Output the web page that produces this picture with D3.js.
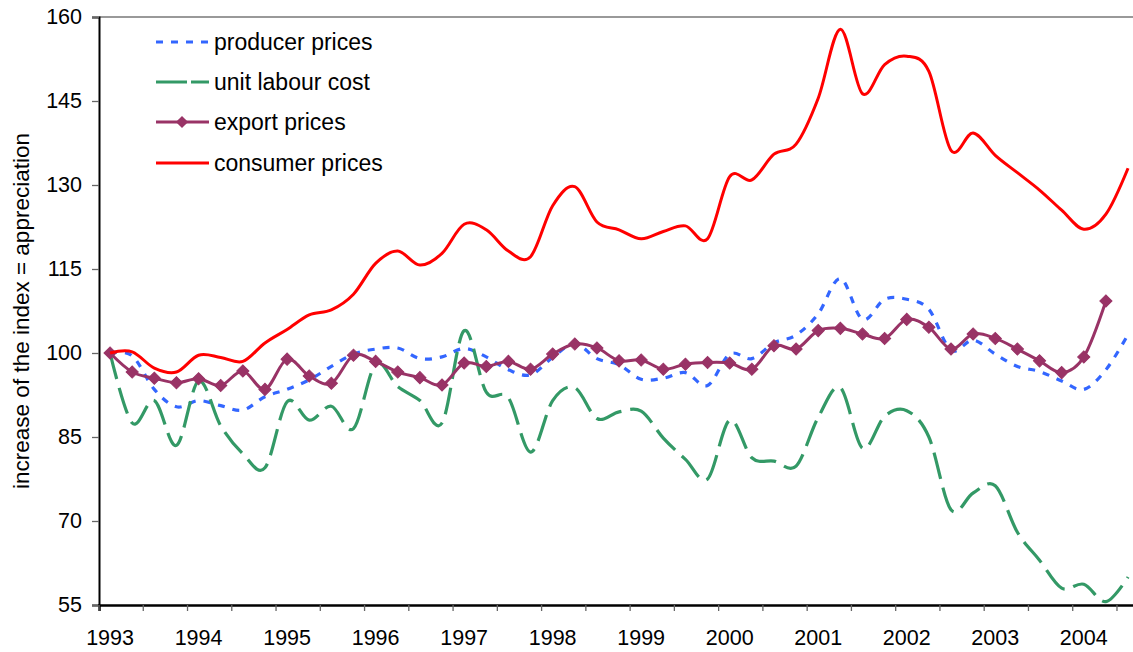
<!DOCTYPE html>
<html>
<head>
<meta charset="utf-8">
<script src="https://cdn.jsdelivr.net/npm/d3@7"></script>
<style>
    body { margin: 0; background: #fff; }
    text { font-family: "Liberation Sans", Arial, sans-serif; fill: #000; }
</style>
</head>
<body>
<div id="chart"></div>
<script>
// quarterly data, 1993 Q1 .. 2004 Q3
var years = [1993, 1994, 1995, 1996, 1997, 1998, 1999, 2000, 2001, 2002, 2003, 2004];
var quarters = [];
years.forEach(function (y) {
    for (var q = 1; q <= 4; q++) quarters.push(y + " Q" + q);
});
quarters = quarters.slice(0, 47);

var yTicks = [55, 70, 85, 100, 115, 130, 145, 160];

var producerPrices = [100, 99.5, 93.5, 90.4, 91.5, 90.6, 89.8, 92.2, 93.5, 95.2, 97.6, 99.8, 100.7, 100.9, 99.0, 99.3,
    100.8, 99.3, 97.0, 96.1, 99.2, 101.7, 99.0, 97.9, 95.3, 95.5, 96.5, 94.2, 99.8, 99.0, 101.8, 103.2,
    107.0, 113.3, 106.0, 109.6, 109.6, 107.8, 100.5, 102.3, 99.8, 97.6, 96.7, 95.0, 93.5, 97.0, 103.3];

var unitLabourCost = [100, 87.5, 91.5, 83.5, 95.0, 87.0, 82.0, 79.5, 91.3, 88.0, 90.5, 86.5, 98.0, 94.0, 91.5, 87.5,
    104.0, 93.0, 92.0, 82.3, 91.5, 93.8, 88.3, 89.5, 89.6, 84.8, 81.0, 77.5, 88.0, 81.3, 80.7, 79.8,
    88.5, 93.8, 83.0, 88.7, 89.7, 85.0, 72.0, 75.0, 76.3, 68.0, 63.0, 58.0, 58.7, 55.6, 60.0];

var exportPrices = [100.0, 96.6, 95.5, 94.7, 95.4, 94.2, 96.8, 93.5, 98.9, 95.9, 94.6, 99.6, 98.5, 96.6, 95.6, 94.3,
    98.2, 97.6, 98.5, 97.1, 99.8, 101.6, 100.9, 98.6, 98.75, 97.1, 98.0, 98.3, 98.2, 97.1, 101.3, 100.7,
    104.0, 104.4, 103.4, 102.6, 106.0, 104.6, 100.7, 103.4, 102.6, 100.7, 98.6, 96.5, 99.3, 109.3];

var consumerPrices = [100, 100.2, 97.3, 96.6, 99.6, 99.2, 98.5, 101.8, 104.2, 106.8, 107.7, 110.5, 116.0, 118.2, 115.7, 117.8,
    123.0, 122.0, 118.2, 117.2, 126.3, 129.7, 123.4, 122.0, 120.4, 121.7, 122.7, 120.4, 131.5, 130.9, 135.5, 137.3,
    145.5, 157.8, 146.3, 151.5, 153.0, 150.3, 136.2, 139.3, 135.3, 132.2, 129.1, 125.5, 122.1, 124.8, 133.0];

var seriesNames = ["producer prices", "unit labour cost", "export prices", "consumer prices"];

var W = 1133, H = 652;
var plotLeft = 99, plotTop = 17, plotBottom = 605;
var catW = 22.13;

var svg = d3.select("#chart")
    .append("svg")
    .attr("width", W)
    .attr("height", H);

svg.append("rect").attr("width", W).attr("height", H).attr("fill", "#fff");

var x = d3.scaleBand()
    .domain(quarters)
    .range([plotLeft, plotLeft + quarters.length * catW])
    .padding(0);

var y = d3.scaleLinear()
    .domain([55, 160])
    .range([plotBottom, plotTop]);

function cx(i) { return x(quarters[i]) + x.bandwidth() / 2; }

// top border of the plot area
svg.append("line")
    .attr("x1", plotLeft).attr("x2", W)
    .attr("y1", y(160)).attr("y2", y(160))
    .attr("stroke", "#777").attr("stroke-width", 1.5);

// y axis
var yAxis = svg.append("g")
    .attr("transform", "translate(" + plotLeft + ",0)")
    .call(d3.axisLeft(y).tickValues(yTicks).tickSize(7).tickPadding(10));
yAxis.select(".domain").attr("stroke", "#000").attr("stroke-width", 2);
yAxis.selectAll(".tick line").attr("stroke", "#666").attr("stroke-width", 1.3);
yAxis.selectAll("text")
    .style("font-family", "Liberation Sans, Arial, sans-serif")
    .style("font-size", "21.5px")
    .attr("fill", "#000");

// x axis: a tick every second quarter, label every year
var xAxis = svg.append("g")
    .attr("transform", "translate(0," + plotBottom + ")")
    .call(d3.axisBottom(x)
        .tickValues(quarters.filter(function (d, i) { return i % 2 == 0; }))
        .tickSize(6)
        .tickFormat(""));
xAxis.selectAll(".tick").attr("transform", function (d) { return "translate(" + x(d) + ",0)"; });
xAxis.select(".domain").attr("stroke", "#000").attr("stroke-width", 2.5);
xAxis.selectAll(".tick line").attr("stroke", "#666").attr("stroke-width", 1.3);

svg.append("g")
    .selectAll("text")
    .data(years)
    .enter()
    .append("text")
    .attr("x", function (d) { return cx(quarters.indexOf(d + " Q1")); })
    .attr("y", 645)
    .attr("text-anchor", "middle")
    .style("font-size", "21.5px")
    .text(function (d) { return d; });

// y axis title
svg.append("text")
    .attr("transform", "translate(29,311) rotate(-90)")
    .attr("text-anchor", "middle")
    .style("font-size", "22.5px")
    .text("increase of the index = appreciation");

var line = d3.line()
    .defined(function (d) { return d != null; })
    .x(function (d, i) { return cx(i); })
    .y(function (d) { return y(d); })
    .curve(d3.curveCardinal.tension(0));

var styles = [
    { data: producerPrices, color: "#3366ff", width: 3.2, dash: "7,8" },
    { data: unitLabourCost, color: "#339966", width: 3.2, dash: "27,9" },
    { data: exportPrices, color: "#993366", width: 3, dash: null },
    { data: consumerPrices, color: "#ff0000", width: 3, dash: null }
];

var lines = svg.append("g");
styles.forEach(function (s) {
    lines.append("path")
        .datum(s.data)
        .attr("fill", "none")
        .attr("stroke", s.color)
        .attr("stroke-width", s.width)
        .attr("stroke-dasharray", s.dash)
        .attr("d", line);
});

var diamond = d3.symbol().type(d3.symbolSquare).size(74);

// export price markers, drawn under the consumer line
lines.insert("g", "path:last-child")
    .selectAll("path")
    .data(exportPrices)
    .enter()
    .append("path")
    .attr("d", diamond)
    .attr("fill", "#993366")
    .attr("stroke", "#993366")
    .attr("transform", function (d, i) { return "translate(" + cx(i) + "," + y(d) + ") rotate(45)"; });

// legend
var legend = svg.append("g");
var legendY = [42, 82, 122, 163];
styles.forEach(function (s, i) {
    legend.append("line")
        .attr("x1", 156).attr("x2", 209)
        .attr("y1", legendY[i]).attr("y2", legendY[i])
        .attr("stroke", s.color)
        .attr("stroke-width", s.width)
        .attr("stroke-dasharray", i == 1 ? "31,4" : s.dash);
    if (i == 2) {
        legend.append("path")
            .attr("d", diamond)
            .attr("fill", s.color)
            .attr("transform", "translate(182," + legendY[i] + ") rotate(45)");
    }
    legend.append("text")
        .attr("x", 214)
        .attr("y", legendY[i])
        .attr("dy", "0.35em")
        .style("font-size", "23px")
        .text(seriesNames[i]);
});
</script>
</body>
</html>
